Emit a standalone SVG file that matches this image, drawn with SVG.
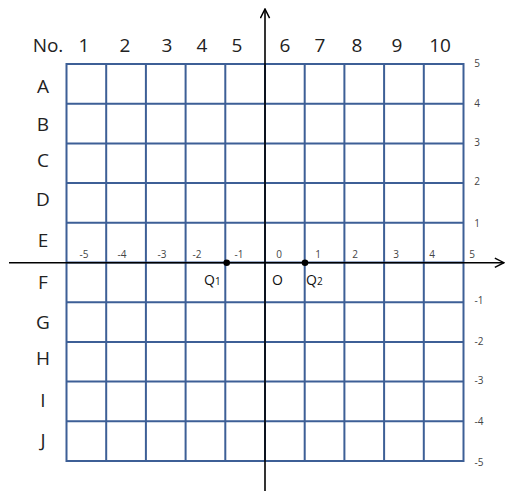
<svg xmlns="http://www.w3.org/2000/svg" width="508" height="491" viewBox="0 0 508 491">
<style>
.grid{stroke:#3d5f96;stroke-width:2;fill:none}
.axis{stroke:#000;stroke-width:1.6;fill:none}
.lbl{font-family:"Open Sans","Liberation Sans",sans-serif;font-size:19px;fill:#222;text-anchor:middle}
.tick{font-family:"Open Sans","Liberation Sans",sans-serif;font-size:10px;fill:#444;text-anchor:middle}
.pt{font-family:"Open Sans","Liberation Sans",sans-serif;font-size:14px;fill:#111}
</style>
<defs>
<marker id="arr" viewBox="0 0 12 12" refX="11" refY="6" markerWidth="11" markerHeight="11" markerUnits="userSpaceOnUse" orient="auto">
<path d="M1,1 L11,6 L1,11" fill="none" stroke="#000" stroke-width="1.6"/>
</marker>
</defs>
<rect width="508" height="491" fill="#fff"/>
<g id="grid" class="grid">
<rect x="66.5" y="64" width="397" height="397"/>
<path d="M106.2,64V461M145.9,64V461M185.6,64V461M225.3,64V461M265,64V461M304.7,64V461M344.4,64V461M384.1,64V461M423.8,64V461"/>
<path d="M66.5,103.7H463.5M66.5,143.4H463.5M66.5,183.1H463.5M66.5,222.8H463.5M66.5,262.5H463.5M66.5,302.2H463.5M66.5,341.9H463.5M66.5,381.6H463.5M66.5,421.3H463.5"/>
</g>
<g id="connectors">
<line class="axis" x1="9" y1="262.7" x2="504" y2="262.7" marker-end="url(#arr)"/>
<line class="axis" x1="265" y1="491" x2="265" y2="9" marker-end="url(#arr)"/>
</g>
<g id="col-labels" class="lbl">
<text x="48" y="52">No.</text>
<text x="84" y="52">1</text>
<text x="125" y="52">2</text>
<text x="167" y="52">3</text>
<text x="202" y="52">4</text>
<text x="237" y="52">5</text>
<text x="285" y="52">6</text>
<text x="320" y="52">7</text>
<text x="357" y="52">8</text>
<text x="397" y="52">9</text>
<text x="440" y="52">10</text>
</g>
<g id="row-labels" class="lbl">
<text x="43" y="93">A</text>
<text x="43" y="131">B</text>
<text x="43" y="167">C</text>
<text x="43" y="206">D</text>
<text x="43" y="247">E</text>
<text x="43" y="289">F</text>
<text x="43" y="329">G</text>
<text x="43" y="365">H</text>
<text x="43" y="407">I</text>
<text x="43" y="447">J</text>
</g>
<g id="x-ticks" class="tick">
<text x="84" y="258">-5</text>
<text x="122" y="258">-4</text>
<text x="162" y="258">-3</text>
<text x="197" y="258">-2</text>
<text x="239" y="258">-1</text>
<text x="279" y="258">0</text>
<text x="318" y="258">1</text>
<text x="355" y="258">2</text>
<text x="396" y="258">3</text>
<text x="432" y="258">4</text>
<text x="472" y="258">5</text>
</g>
<g id="y-ticks" class="tick">
<text x="477" y="67">5</text>
<text x="477" y="107">4</text>
<text x="477" y="146">3</text>
<text x="477" y="185">2</text>
<text x="477" y="227">1</text>
<text x="479" y="304">-1</text>
<text x="479" y="345">-2</text>
<text x="479" y="384">-3</text>
<text x="479" y="425">-4</text>
<text x="479" y="466">-5</text>
</g>
<g id="Q1">
<circle cx="226.7" cy="262.7" r="3.3" fill="#000"/>
<text class="pt" x="204" y="285">Q<tspan font-size="10">1</tspan></text>
</g>
<g id="O">
<text class="pt" x="272" y="285">O</text>
</g>
<g id="Q2">
<circle cx="305" cy="262.7" r="3.3" fill="#000"/>
<text class="pt" x="306" y="285">Q<tspan font-size="10">2</tspan></text>
</g>
</svg>
